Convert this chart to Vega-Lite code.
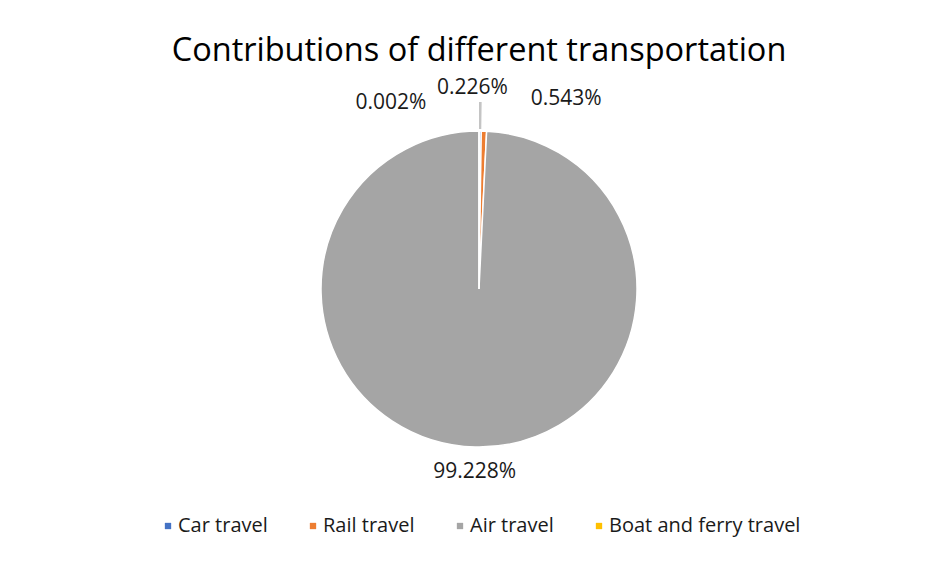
{
  "$schema": "https://vega.github.io/schema/vega-lite/v6.json",
  "width": 932,
  "height": 546,
  "autosize": {"type": "none"},
  "padding": {"left": 13, "top": 16, "right": 0, "bottom": 0},
  "background": "white",
  "config": {"view": {"stroke": null}},
  "title": {
    "text": "Contributions of different transportation",
    "font": "Open Sans",
    "fontSize": 32.5,
    "fontWeight": "normal",
    "color": "black",
    "anchor": "middle",
    "frame": "group",
    "offset": -51
  },
  "data": {
    "values": [
      {"mode": "Car travel", "rank": 1, "share": 0.00226},
      {"mode": "Rail travel", "rank": 2, "share": 0.00543},
      {"mode": "Air travel", "rank": 3, "share": 0.99228},
      {"mode": "Boat and ferry travel", "rank": 4, "share": 0.00002}
    ]
  },
  "encoding": {
    "theta": {"field": "share", "type": "quantitative", "stack": true},
    "order": {"field": "rank", "type": "quantitative", "sort": "ascending"}
  },
  "layer": [
    {
      "mark": {"type": "arc", "outerRadius": 158, "stroke": "white", "strokeWidth": 1.5},
      "encoding": {
        "color": {
          "field": "mode",
          "type": "nominal",
          "sort": ["Car travel", "Rail travel", "Air travel", "Boat and ferry travel"],
          "scale": {
            "domain": ["Car travel", "Rail travel", "Air travel", "Boat and ferry travel"],
            "range": ["#4472C4", "#ED7D31", "#A5A5A5", "#FFC000"]
          },
          "legend": {
            "title": null,
            "orient": "none",
            "direction": "horizontal",
            "legendX": 145,
            "legendY": 500,
            "symbolType": "square",
            "symbolSize": 40,
            "symbolStrokeWidth": 0,
            "labelFont": "Open Sans",
            "labelFontSize": 20,
            "labelLimit": 400,
            "labelColor": "#1a1a1a",
            "labelOffset": 0,
            "columnPadding": 35
          }
        }
      }
    },
    {
      "mark": {"type": "arc", "radius2": 160, "radius": 187, "fill": "#c4c4c4", "stroke": null},
      "encoding": {
        "opacity": {"condition": {"test": "datum.mode === 'Car travel'", "value": 1}, "value": 0}
      }
    },
    {
      "mark": {"type": "text", "radius": 183, "font": "Open Sans", "fontSize": 21, "color": "#1a1a1a", "align": "center", "baseline": "middle"},
      "encoding": {
        "text": {"condition": {"test": "datum.mode === 'Air travel'", "field": "share", "format": ".3%"}, "value": ""}
      }
    },
    {
      "mark": {"type": "text", "radius": 195, "dx": -8, "dy": -6, "font": "Open Sans", "fontSize": 21, "color": "#1a1a1a", "align": "center", "baseline": "middle"},
      "encoding": {
        "text": {"condition": {"test": "datum.mode === 'Car travel'", "field": "share", "format": ".3%"}, "value": ""}
      }
    },
    {
      "mark": {"type": "text", "radius": 195, "dx": 81, "dy": 5, "font": "Open Sans", "fontSize": 21, "color": "#1a1a1a", "align": "center", "baseline": "middle"},
      "encoding": {
        "text": {"condition": {"test": "datum.mode === 'Rail travel'", "field": "share", "format": ".3%"}, "value": ""}
      }
    },
    {
      "mark": {"type": "text", "radius": 195, "dx": -88, "dy": 9, "font": "Open Sans", "fontSize": 21, "color": "#1a1a1a", "align": "center", "baseline": "middle"},
      "encoding": {
        "text": {"condition": {"test": "datum.mode === 'Boat and ferry travel'", "field": "share", "format": ".3%"}, "value": ""}
      }
    }
  ]
}
